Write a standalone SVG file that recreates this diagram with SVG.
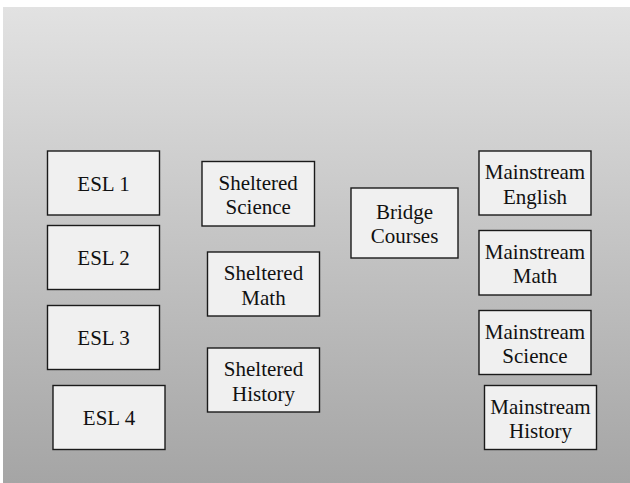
<svg xmlns="http://www.w3.org/2000/svg" width="630" height="483" viewBox="0 0 630 483">
  <defs>
    <linearGradient id="bg" x1="0" y1="0" x2="0" y2="1">
      <stop offset="0" stop-color="#e2e2e2"/>
      <stop offset="1" stop-color="#a5a5a5"/>
    </linearGradient>
    <style>
      .box { fill: #f0f0f0; stroke: #1a1a1a; stroke-width: 1.4; }
      .lbl { font-size: 21px; fill: #111; text-anchor: middle; }
    </style>
  </defs>

  <!-- page background -->
  <rect x="0" y="0" width="630" height="483" fill="#ffffff"/>
  <rect x="3" y="7" width="627" height="476" fill="url(#bg)"/>

  <g font-family="'Liberation Serif', 'Times New Roman', 'DejaVu Serif', serif">
  <!-- ESL column -->
  <g id="esl1">
    <rect class="box" x="47.5" y="151" width="112" height="64"/>
    <text class="lbl" x="103.5" y="190.7">ESL 1</text>
  </g>
  <g id="esl2">
    <rect class="box" x="47.5" y="225.5" width="112" height="64"/>
    <text class="lbl" x="103.5" y="265.2">ESL 2</text>
  </g>
  <g id="esl3">
    <rect class="box" x="47.5" y="305.5" width="112" height="64"/>
    <text class="lbl" x="103.5" y="345.2">ESL 3</text>
  </g>
  <g id="esl4">
    <rect class="box" x="53" y="385.5" width="112" height="64"/>
    <text class="lbl" x="109" y="425.2">ESL 4</text>
  </g>

  <!-- Sheltered column -->
  <g id="sheltered-science">
    <rect class="box" x="202" y="161.5" width="112.5" height="64.5"/>
    <text class="lbl" x="258.2" y="189.5">Sheltered</text>
    <text class="lbl" x="258.2" y="214">Science</text>
  </g>
  <g id="sheltered-math">
    <rect class="box" x="207.5" y="252" width="112" height="64"/>
    <text class="lbl" x="263.5" y="280">Sheltered</text>
    <text class="lbl" x="263.5" y="304.5">Math</text>
  </g>
  <g id="sheltered-history">
    <rect class="box" x="207.5" y="348" width="112" height="64"/>
    <text class="lbl" x="263.5" y="376">Sheltered</text>
    <text class="lbl" x="263.5" y="400.5">History</text>
  </g>

  <!-- Bridge -->
  <g id="bridge-courses">
    <rect class="box" x="351" y="188" width="107" height="70"/>
    <text class="lbl" x="404.5" y="218.8">Bridge</text>
    <text class="lbl" x="404.5" y="243">Courses</text>
  </g>

  <!-- Mainstream column -->
  <g id="mainstream-english">
    <rect class="box" x="479" y="151" width="112" height="64"/>
    <text class="lbl" x="535" y="179">Mainstream</text>
    <text class="lbl" x="535" y="203.5">English</text>
  </g>
  <g id="mainstream-math">
    <rect class="box" x="479" y="230.5" width="112" height="64.5"/>
    <text class="lbl" x="535" y="259">Mainstream</text>
    <text class="lbl" x="535" y="283">Math</text>
  </g>
  <g id="mainstream-science">
    <rect class="box" x="479" y="310.5" width="112" height="64"/>
    <text class="lbl" x="535" y="338.5">Mainstream</text>
    <text class="lbl" x="535" y="363">Science</text>
  </g>
  <g id="mainstream-history">
    <rect class="box" x="484.5" y="385.5" width="112" height="64"/>
    <text class="lbl" x="540.5" y="413.5">Mainstream</text>
    <text class="lbl" x="540.5" y="438">History</text>
  </g>
  </g>

  <!-- no connectors are drawn between the boxes -->
  <g id="connectors"/>
</svg>
